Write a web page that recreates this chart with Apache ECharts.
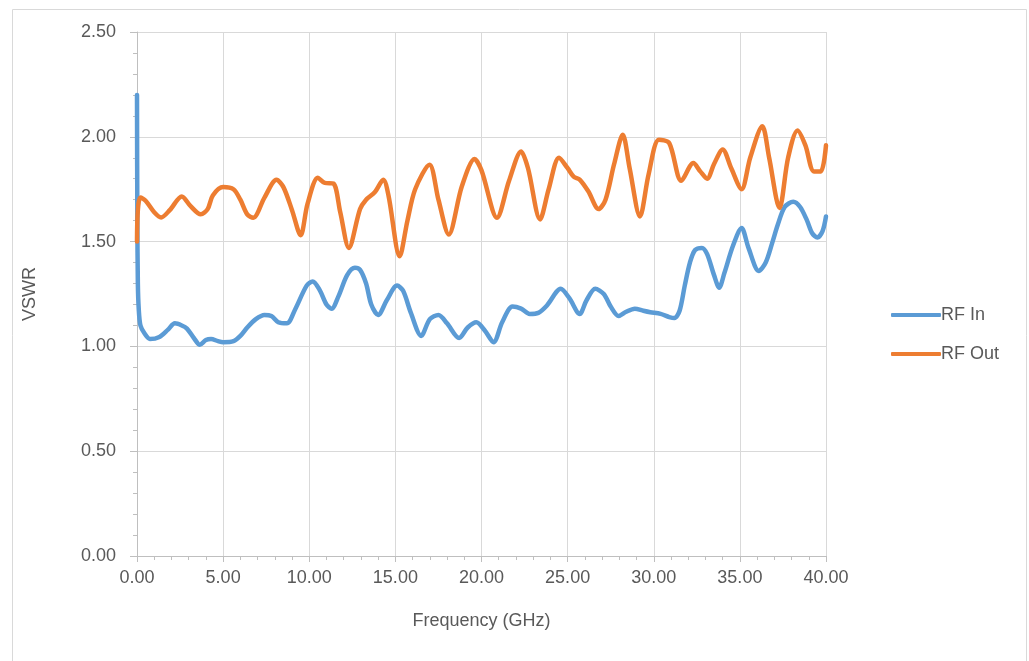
<!DOCTYPE html>
<html>
<head>
<meta charset="utf-8">
<script src="https://cdn.jsdelivr.net/npm/echarts@6/dist/echarts.min.js"></script>
<style>html,body{margin:0;padding:0;background:#fff}#c{width:1029px;height:661px}</style>
</head>
<body>
<div id="c"></div>
<script>
const seriesNames = ['RF In', 'RF Out'];
const xTicks = [0, 5, 10, 15, 20, 25, 30, 35, 40];
const yTicks = [0, 0.5, 1.0, 1.5, 2.0, 2.5];
const rfIn = [
[0,2.2],[0.02,1.6],[0.05,1.3],[0.1,1.18],[0.2,1.1],[0.45,1.06],[0.75,1.035],[1.3,1.045],[1.8,1.08],[2.2,1.11],
[2.6,1.1],[2.9,1.085],[3.3,1.04],[3.65,1.008],[4.0,1.03],[4.3,1.035],[4.7,1.025],[5.0,1.02],[5.6,1.025],[6.0,1.05],
[6.4,1.09],[6.9,1.13],[7.4,1.15],[7.8,1.145],[8.2,1.115],[8.7,1.11],[9.2,1.18],[9.85,1.29],[10.2,1.31],[10.6,1.27],
[11.0,1.2],[11.3,1.18],[11.7,1.24],[12.2,1.34],[12.65,1.375],[12.95,1.365],[13.3,1.3],[13.6,1.2],[14.0,1.15],[14.5,1.22],
[15.1,1.29],[15.45,1.265],[15.9,1.16],[16.5,1.05],[17.0,1.13],[17.5,1.15],[18.0,1.11],[18.7,1.04],[19.2,1.09],[19.7,1.115],
[20.2,1.075],[20.7,1.02],[21.2,1.115],[21.8,1.19],[22.3,1.18],[22.8,1.155],[23.3,1.16],[23.8,1.195],[24.6,1.275],[25.1,1.23],
[25.7,1.155],[26.1,1.22],[26.6,1.275],[27.1,1.25],[27.5,1.19],[27.96,1.145],[28.4,1.165],[28.9,1.18],[29.4,1.17],[29.8,1.163],
[30.4,1.155],[30.9,1.14],[31.2,1.135],[31.5,1.17],[31.8,1.29],[32.1,1.4],[32.4,1.46],[32.8,1.47],[33.1,1.44],[33.5,1.34],
[33.8,1.28],[34.1,1.35],[34.6,1.48],[35.1,1.565],[35.5,1.47],[36.1,1.36],[36.5,1.4],[36.9,1.5],[37.2,1.58],[37.6,1.665],
[38.1,1.69],[38.5,1.665],[38.9,1.6],[39.2,1.54],[39.5,1.52],[39.8,1.55],[40.0,1.62]
];
const rfOut = [
[0,1.5],[0.05,1.65],[0.2,1.71],[0.5,1.695],[1.0,1.64],[1.4,1.615],[1.9,1.65],[2.6,1.715],[3.1,1.67],[3.7,1.63],
[4.1,1.655],[4.4,1.72],[5.0,1.76],[5.6,1.75],[6.0,1.7],[6.4,1.63],[6.75,1.614],[7.4,1.71],[8.1,1.795],[8.5,1.76],
[9.0,1.65],[9.5,1.53],[9.9,1.68],[10.5,1.805],[10.9,1.78],[11.4,1.777],[11.8,1.64],[12.3,1.47],[12.95,1.655],[13.3,1.70],
[13.8,1.735],[14.3,1.795],[14.6,1.72],[15.25,1.43],[15.7,1.6],[16.15,1.75],[16.98,1.867],[17.5,1.7],[18.1,1.534],[18.86,1.764],
[19.6,1.894],[20.0,1.84],[20.9,1.614],[21.6,1.79],[22.3,1.93],[22.7,1.85],[23.4,1.606],[23.9,1.75],[24.5,1.90],[25.0,1.85],
[25.35,1.81],[25.7,1.796],[26.2,1.74],[26.8,1.655],[27.2,1.7],[27.7,1.87],[28.2,2.01],[28.6,1.85],[29.2,1.62],[29.7,1.82],
[30.3,1.986],[30.9,1.97],[31.6,1.79],[32.3,1.875],[32.7,1.835],[33.1,1.80],[33.5,1.87],[34.0,1.94],[34.5,1.85],[35.1,1.75],
[35.6,1.9],[36.3,2.05],[36.7,1.9],[37.3,1.66],[37.8,1.9],[38.35,2.03],[38.8,1.96],[39.3,1.835],[39.7,1.835],[40.0,1.96]
];

const FONT = 'Liberation Sans';
const TXT = '#595959';
const FS = 18;
const chart = echarts.init(document.getElementById('c'));
chart.setOption({
  animation: false,
  textStyle: { fontFamily: FONT },
  graphic: [{
    type: 'rect', left: 10, top: 7, silent: true,
    shape: { width: 1014, height: 660 },
    style: { fill: 'none', stroke: '#d9d9d9', lineWidth: 1 }
  }],
  grid: { left: 137, right: 203, top: 32, bottom: 105 },
  legend: {
    orient: 'vertical', left: 886, top: 301,
    itemWidth: 50, itemHeight: 4, itemGap: 21, icon: 'roundRect',
    textStyle: { color: TXT, fontSize: FS, fontFamily: FONT, padding: [0, 0, 0, -5] },
    data: seriesNames
  },
  xAxis: {
    type: 'value', min: xTicks[0], max: xTicks[xTicks.length - 1], interval: 5,
    name: 'Frequency (GHz)', nameLocation: 'middle', nameGap: 56,
    nameTextStyle: { color: TXT, fontSize: FS, fontFamily: FONT },
    axisLine: { show: true, lineStyle: { color: '#bfbfbf', width: 1 } },
    axisTick: { show: true, length: 6, lineStyle: { color: '#bfbfbf' } },
    minorTick: { show: true, splitNumber: 5, length: 4, lineStyle: { color: '#bfbfbf' } },
    axisLabel: { color: TXT, fontSize: FS, fontFamily: FONT, margin: 13, formatter: v => v.toFixed(2) },
    splitLine: { show: true, lineStyle: { color: '#d9d9d9', width: 1 } }
  },
  yAxis: {
    type: 'value', min: yTicks[0], max: yTicks[yTicks.length - 1], interval: 0.5,
    name: 'VSWR', nameLocation: 'middle', nameGap: 98, nameRotate: 90,
    nameTextStyle: { color: TXT, fontSize: FS, fontFamily: FONT },
    axisLine: { show: true, lineStyle: { color: '#bfbfbf', width: 1 } },
    axisTick: { show: true, length: 7, lineStyle: { color: '#bfbfbf' } },
    minorTick: { show: true, splitNumber: 5, length: 4, lineStyle: { color: '#bfbfbf' } },
    axisLabel: { color: TXT, fontSize: FS, fontFamily: FONT, margin: 21, formatter: v => v.toFixed(2) },
    splitLine: { show: true, lineStyle: { color: '#d9d9d9', width: 1 } }
  },
  series: [
    { name: seriesNames[0], type: 'line', data: rfIn, showSymbol: false, symbol: 'none', smooth: 0.3,
      lineStyle: { color: '#5b9bd5', width: 4.5, cap: 'round', join: 'round' }, itemStyle: { color: '#5b9bd5' } },
    { name: seriesNames[1], type: 'line', data: rfOut, showSymbol: false, symbol: 'none', smooth: 0.3,
      lineStyle: { color: '#ed7d31', width: 4.5, cap: 'round', join: 'round' }, itemStyle: { color: '#ed7d31' } }
  ]
});
</script>
</body>
</html>
